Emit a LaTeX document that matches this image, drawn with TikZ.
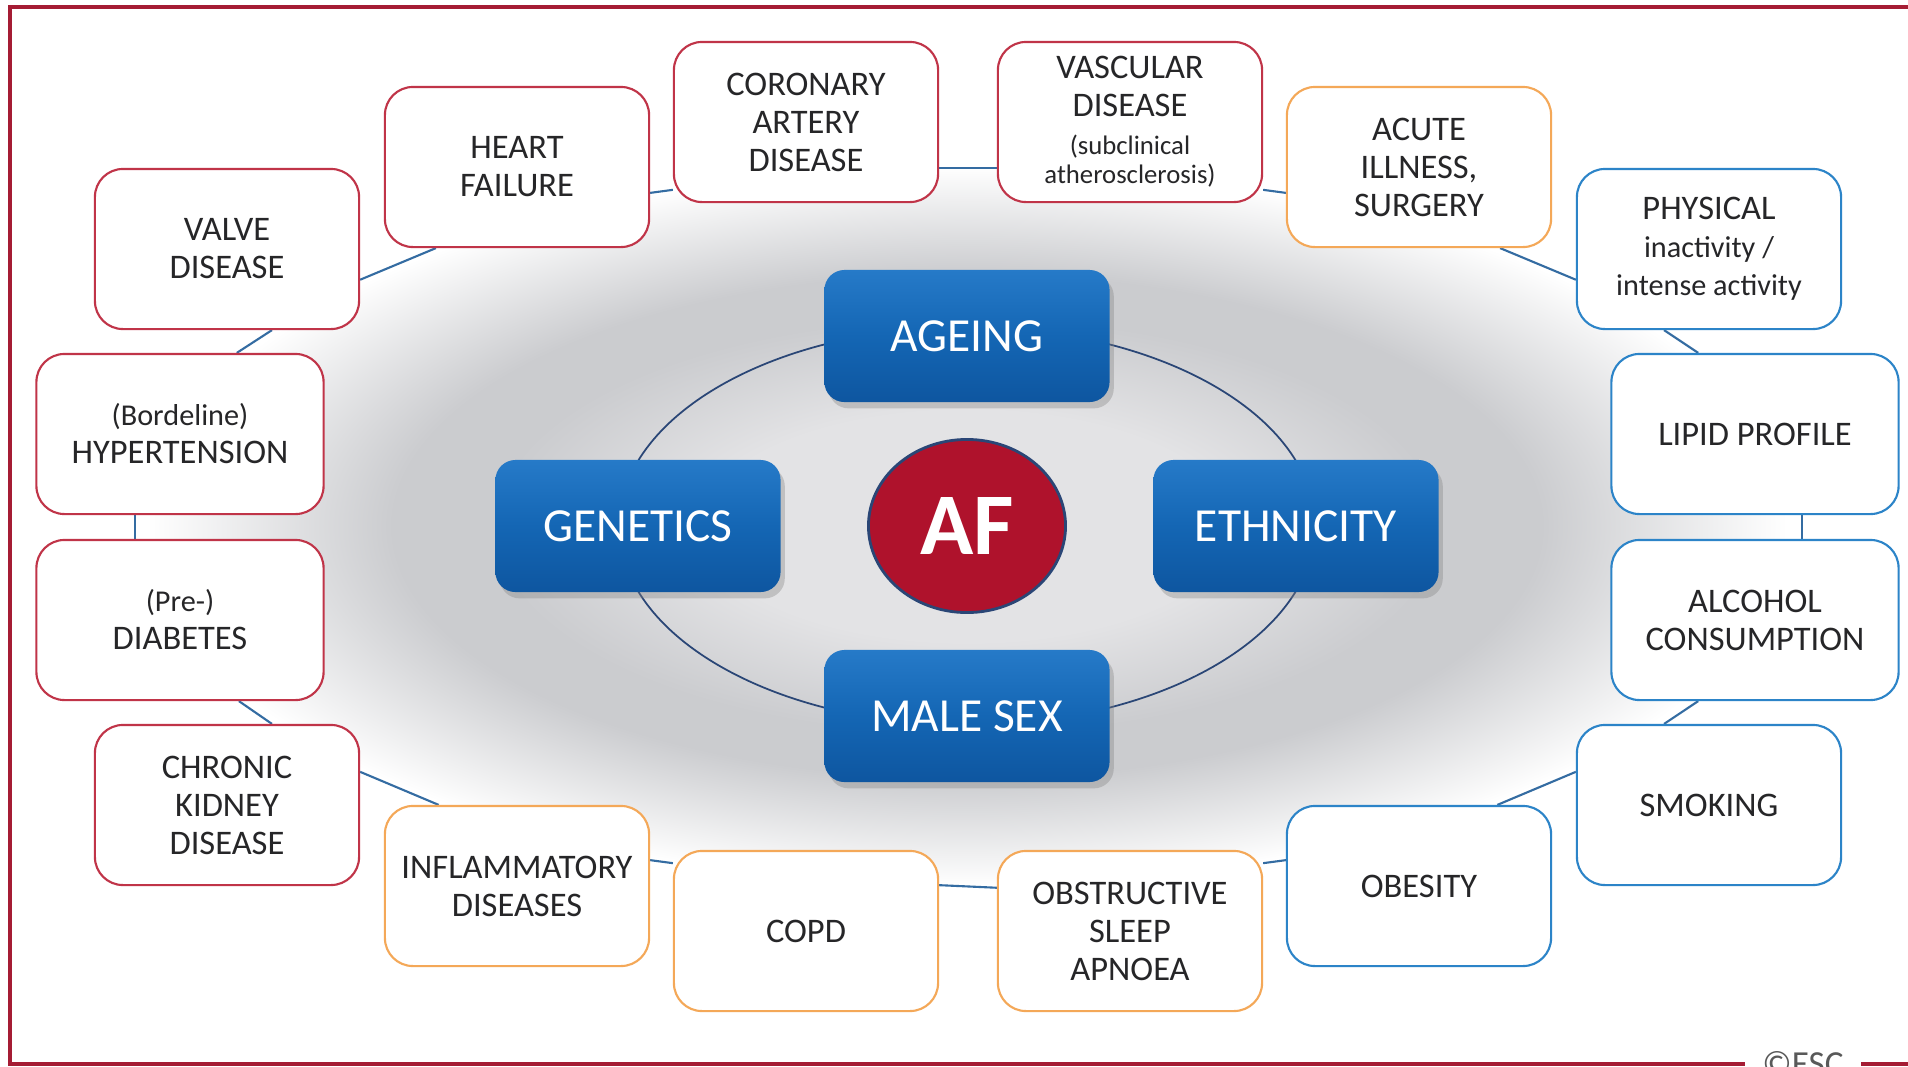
\documentclass[tikz,border=0pt]{standalone}
\usepackage{fontspec}
\setmainfont{Carlito}
\usetikzlibrary{shapes.geometric,shadows,backgrounds}
\definecolor{framered}{RGB}{165,28,52}
\definecolor{boxred}{RGB}{192,52,72}
\definecolor{boxorange}{RGB}{244,168,88}
\definecolor{boxblue}{RGB}{44,132,200}
\definecolor{escblue}{RGB}{20,102,180}
\definecolor{corehi}{RGB}{38,122,200}
\definecolor{corelo}{RGB}{14,86,160}
\definecolor{afred}{RGB}{175,18,44}
\definecolor{linkblue}{RGB}{52,108,162}
\definecolor{ringnavy}{RGB}{42,70,118}
\definecolor{inktext}{RGB}{38,38,40}
\definecolor{glowin}{RGB}{227,227,229}
\definecolor{glowdk}{RGB}{203,204,207}
\pgfdeclareradialshading{afglow}{\pgfpoint{0bp}{0bp}}{color(0bp)=(glowin); color(8bp)=(glowin); color(14.5bp)=(glowdk); color(17.5bp)=(glowdk); color(25bp)=(white); color(50bp)=(white)}
\newcommand{\smalltxt}[1]{{\fontsize{8.6}{10}\selectfont #1}}
\newcommand{\tinytxt}[1]{{\fontsize{7.6}{9}\selectfont #1}}
\tikzset{
    factor/.style={draw, fill=white, line width=0.6pt, rounded corners=0.28cm, align=center,
        text=inktext, font=\fontsize{9.8}{10.8}\selectfont,
        minimum width=2.64cm, minimum height=1.6cm, inner sep=2pt},
    widebox/.style={minimum width=2.87cm},
    redbox/.style={factor, draw=boxred},
    orangebox/.style={factor, draw=boxorange},
    bluebox/.style={factor, draw=boxblue},
    core/.style={rounded corners=0.2cm, top color=corehi, bottom color=corelo, middle color=escblue,
        text=white, font=\fontsize{13.5}{15}\selectfont, minimum width=2.85cm, minimum height=1.32cm,
        drop shadow={shadow xshift=1.2pt, shadow yshift=-1.8pt, opacity=0.35}},
    link/.style={linkblue, line width=0.6pt},
    ring/.style={ringnavy, line width=0.5pt},
    frame/.style={framered, line width=1.2pt}
}
\begin{document}
\begin{tikzpicture}[x=0.01cm, y=-0.01cm]
    \useasboundingbox (0,0) rectangle (1908,1066);
    \clip (0,0) rectangle (1908,1066);

    %outer risk factors
    \node[redbox] (valve) at (227,249) {VALVE\\DISEASE};
    \node[redbox] (heart) at (517,167) {HEART\\FAILURE};
    \node[redbox] (cad) at (806,122) {CORONARY\\ARTERY\\DISEASE};
    \node[redbox] (vasc) at (1130,122) {VASCULAR\\DISEASE\\\tinytxt{(subclinical}\\[-2.5pt]\tinytxt{atherosclerosis)}};
    \node[orangebox] (acute) at (1419,167) {ACUTE\\ILLNESS,\\SURGERY};
    \node[bluebox] (phys) at (1709,249) {PHYSICAL\\\smalltxt{inactivity /}\\\smalltxt{intense activity}};
    \node[bluebox, widebox] (lipid) at (1755,434) {LIPID PROFILE};
    \node[bluebox, widebox] (alcohol) at (1755,620) {ALCOHOL\\CONSUMPTION};
    \node[bluebox] (smoking) at (1709,805) {SMOKING};
    \node[bluebox] (obesity) at (1419,886) {OBESITY};
    \node[orangebox] (osa) at (1130,931) {OBSTRUCTIVE\\SLEEP\\APNOEA};
    \node[orangebox] (copd) at (806,931) {COPD};
    \node[orangebox] (inflam) at (517,886) {INFLAMMATORY\\DISEASES};
    \node[redbox] (ckd) at (227,805) {CHRONIC\\KIDNEY\\DISEASE};
    \node[redbox, widebox] (diab) at (180,620) {\smalltxt{(Pre-)}\\DIABETES};
    \node[redbox, widebox] (hyper) at (180,434) {\smalltxt{(Bordeline)}\\HYPERTENSION};

    %core factors
    \node[core] (ageing) at (967,336) {AGEING};
    \node[core] (genetics) at (638,526) {GENETICS};
    \node[core] (ethnicity) at (1296,526) {ETHNICITY};
    \node[core] (malesex) at (967,716) {MALE SEX};
    \node[ellipse, fill=afred, draw=ringnavy, line width=0.8pt, text=white,
        font=\bfseries\fontsize{25}{25}\selectfont,
        minimum width=1.97cm, minimum height=1.73cm, inner sep=0pt] (af) at (967,526) {AF};

    \begin{scope}[on background layer]
        \fill[white] (0,0) rectangle (1908,1066);
        \shade[shading=afglow] (af.center) ellipse [x radius=820, y radius=360];
        \draw[ring] (af.center) ellipse [x radius=348, y radius=199];
        \foreach \a/\p/\b/\q in
        {valve/-13/heart/225, heart/-11/cad/207, cad/-19/vasc/199, vasc/-27/acute/191,
         acute/-45/phys/193, phys/241/lipid/125, lipid/-60/alcohol/60, alcohol/235/smoking/119,
         smoking/166/obesity/46, obesity/169/osa/27, osa/162/copd/19, copd/153/inflam/11,
         inflam/134/ckd/14, ckd/61/diab/-54, diab/119/hyper/-119, hyper/55/valve/-61}
        {
            \draw[link] (\a.\p) -- (\b.\q);
        }
    \end{scope}

    %frame
    \draw[frame] (1940,7) -- (10,7) -- (10,1064) -- (1940,1064);
    \node[fill=white, text=black!65, font=\fontsize{10}{10}\selectfont, anchor=base,
        inner xsep=5pt, inner ysep=1pt] (esc) at (1803,1075) {©ESC};
\end{tikzpicture}
\end{document}
